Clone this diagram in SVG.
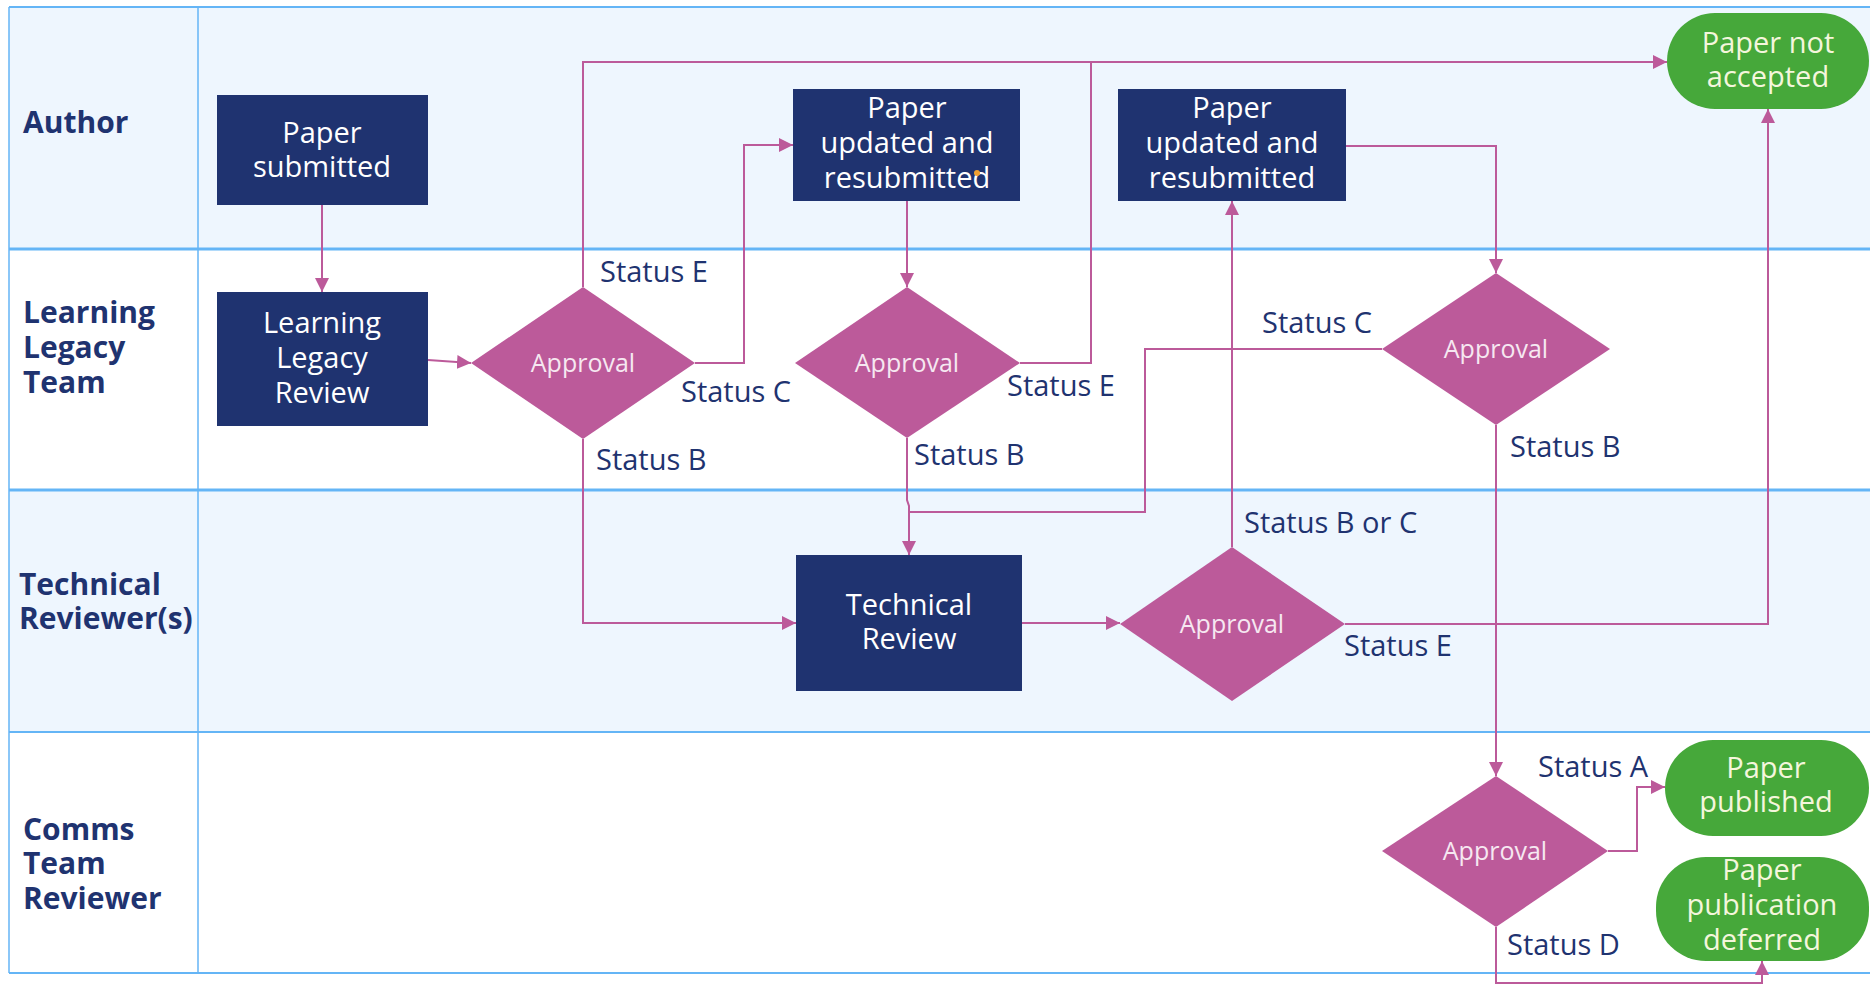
<svg xmlns="http://www.w3.org/2000/svg" width="1870" height="985" viewBox="0 0 1870 985">
<style>
.lane-label{font-family:"Open Sans","Liberation Sans",sans-serif;font-weight:bold;font-size:30px;fill:#1f3370}
.box{fill:#1f3370}
.box-text{font-family:"Open Sans","Liberation Sans",sans-serif;font-size:29px;fill:#ffffff;text-anchor:middle}
.dia{fill:#bc5a9a}
.dia-text{font-family:"Open Sans","Liberation Sans",sans-serif;font-size:25px;fill:#f6e8f1;text-anchor:middle}
.term{fill:#46a83a}
.term-text{font-family:"Open Sans","Liberation Sans",sans-serif;font-size:29px;fill:#f4f6dc;text-anchor:middle}
.conn{fill:none;stroke:#bc5a9a;stroke-width:2}
.lbl{font-family:"Open Sans","Liberation Sans",sans-serif;font-size:29px;fill:#1f3370}
.lane-line{stroke:#64b5f6}
</style>
<defs>
<marker id="arr" markerUnits="userSpaceOnUse" markerWidth="14" markerHeight="14" refX="14" refY="7" orient="auto">
<path d="M0,0 L14,7 L0,14 z" fill="#bc5a9a"/>
</marker>
</defs>
<rect width="1870" height="985" fill="#ffffff"/>
<g id="lanes">
<rect x="9" y="7" width="1861" height="242" fill="#eef6fe"/>
<rect x="9" y="249" width="1861" height="241" fill="#ffffff"/>
<rect x="9" y="490" width="1861" height="242" fill="#eef6fe"/>
<rect x="9" y="732" width="1861" height="241" fill="#ffffff"/>
<line class="lane-line" x1="9" y1="7" x2="1870" y2="7" stroke-width="2"/>
<line class="lane-line" x1="9" y1="249" x2="1870" y2="249" stroke-width="3"/>
<line class="lane-line" x1="9" y1="490" x2="1870" y2="490" stroke-width="3"/>
<line class="lane-line" x1="9" y1="732" x2="1870" y2="732" stroke-width="2"/>
<line class="lane-line" x1="9" y1="973" x2="1870" y2="973" stroke-width="2"/>
<line class="lane-line" x1="9" y1="7" x2="9" y2="973" stroke-width="1.5"/>
<line class="lane-line" x1="198" y1="7" x2="198" y2="973" stroke-width="1.5"/>
<text class="lane-label" x="23" y="133">Author</text>
<text class="lane-label"><tspan x="23" y="323">Learning</tspan><tspan x="23" y="358">Legacy</tspan><tspan x="23" y="393">Team</tspan></text>
<text class="lane-label"><tspan x="19" y="595">Technical</tspan><tspan x="19" y="629">Reviewer(s)</tspan></text>
<text class="lane-label"><tspan x="23" y="840">Comms</tspan><tspan x="23" y="874">Team</tspan><tspan x="23" y="909">Reviewer</tspan></text>
</g>
<g id="connectors">
<path class="conn" d="M322,205 V292" marker-end="url(#arr)"/>
<path class="conn" d="M428,360 L471,363" marker-end="url(#arr)"/>
<path class="conn" d="M583,287 V62 H1667" marker-end="url(#arr)"/>
<path class="conn" d="M695,363 H744 V145 H793" marker-end="url(#arr)"/>
<path class="conn" d="M583,439 V623 H796" marker-end="url(#arr)"/>
<path class="conn" d="M907,201 V287" marker-end="url(#arr)"/>
<path class="conn" d="M1020,363 H1091 V62"/>
<path class="conn" d="M907,438 V500 L909,506 V555" marker-end="url(#arr)"/>
<path class="conn" d="M1382,349 H1145 V512 H908"/>
<path class="conn" d="M1232,547 V201" marker-end="url(#arr)"/>
<path class="conn" d="M1346,146 H1496 V273" marker-end="url(#arr)"/>
<path class="conn" d="M1022,623 H1120" marker-end="url(#arr)"/>
<path class="conn" d="M1345,624 H1768 V109" marker-end="url(#arr)"/>
<path class="conn" d="M1496,425 V776" marker-end="url(#arr)"/>
<path class="conn" d="M1608,851 H1637 V787 H1665" marker-end="url(#arr)"/>
<path class="conn" d="M1496,927 V983 H1762 V961" marker-end="url(#arr)"/>
<text class="lbl" x="600" y="282">Status E</text>
<text class="lbl" x="681" y="402">Status C</text>
<text class="lbl" x="596" y="470">Status B</text>
<text class="lbl" x="1007" y="396">Status E</text>
<text class="lbl" x="914" y="465">Status B</text>
<text class="lbl" x="1262" y="333">Status C</text>
<text class="lbl" x="1244" y="533">Status B or C</text>
<text class="lbl" x="1344" y="656">Status E</text>
<text class="lbl" x="1510" y="457">Status B</text>
<text class="lbl" x="1538" y="777">Status A</text>
<text class="lbl" x="1507" y="955">Status D</text>
</g>
<g id="node-paper-submitted">
<rect class="box" x="217" y="95" width="211" height="110"/>
<text class="box-text"><tspan x="322" y="143">Paper</tspan><tspan x="322" y="177">submitted</tspan></text>
</g>
<g id="node-ll-review">
<rect class="box" x="217" y="292" width="211" height="134"/>
<text class="box-text"><tspan x="322" y="333">Learning</tspan><tspan x="322" y="368">Legacy</tspan><tspan x="322" y="403">Review</tspan></text>
</g>
<g id="node-approval-1">
<polygon class="dia" points="471,363 583,287 695,363 583,439"/>
<text class="dia-text" x="583" y="372">Approval</text>
</g>
<g id="node-resubmitted-1">
<rect class="box" x="793" y="89" width="227" height="112"/>
<text class="box-text"><tspan x="907" y="118">Paper</tspan><tspan x="907" y="153">updated and</tspan><tspan x="907" y="188">resubmitted</tspan></text>
<circle cx="977" cy="173" r="3" fill="#f0a030"/>
</g>
<g id="node-approval-2">
<polygon class="dia" points="795,363 907,287 1020,363 907,438"/>
<text class="dia-text" x="907" y="372">Approval</text>
</g>
<g id="node-resubmitted-2">
<rect class="box" x="1118" y="89" width="228" height="112"/>
<text class="box-text"><tspan x="1232" y="118">Paper</tspan><tspan x="1232" y="153">updated and</tspan><tspan x="1232" y="188">resubmitted</tspan></text>
</g>
<g id="node-approval-3">
<polygon class="dia" points="1382,349 1496,273 1610,349 1496,425"/>
<text class="dia-text" x="1496" y="358">Approval</text>
</g>
<g id="node-not-accepted">
<rect class="term" x="1667" y="13" width="202" height="96" rx="48" ry="48"/>
<text class="term-text"><tspan x="1768" y="53">Paper not</tspan><tspan x="1768" y="87">accepted</tspan></text>
</g>
<g id="node-technical-review">
<rect class="box" x="796" y="555" width="226" height="136"/>
<text class="box-text"><tspan x="909" y="615">Technical</tspan><tspan x="909" y="649">Review</tspan></text>
</g>
<g id="node-approval-4">
<polygon class="dia" points="1120,624 1232,547 1345,624 1232,701"/>
<text class="dia-text" x="1232" y="633">Approval</text>
</g>
<g id="node-approval-5">
<polygon class="dia" points="1382,851 1496,776 1608,851 1496,927"/>
<text class="dia-text" x="1495" y="860">Approval</text>
</g>
<g id="node-published">
<rect class="term" x="1665" y="740" width="204" height="96" rx="48" ry="48"/>
<text class="term-text"><tspan x="1766" y="778">Paper</tspan><tspan x="1766" y="812">published</tspan></text>
</g>
<g id="node-deferred">
<rect class="term" x="1656" y="857" width="213" height="104" rx="50" ry="50"/>
<text class="term-text"><tspan x="1762" y="880">Paper</tspan><tspan x="1762" y="915">publication</tspan><tspan x="1762" y="950">deferred</tspan></text>
</g>
</svg>
